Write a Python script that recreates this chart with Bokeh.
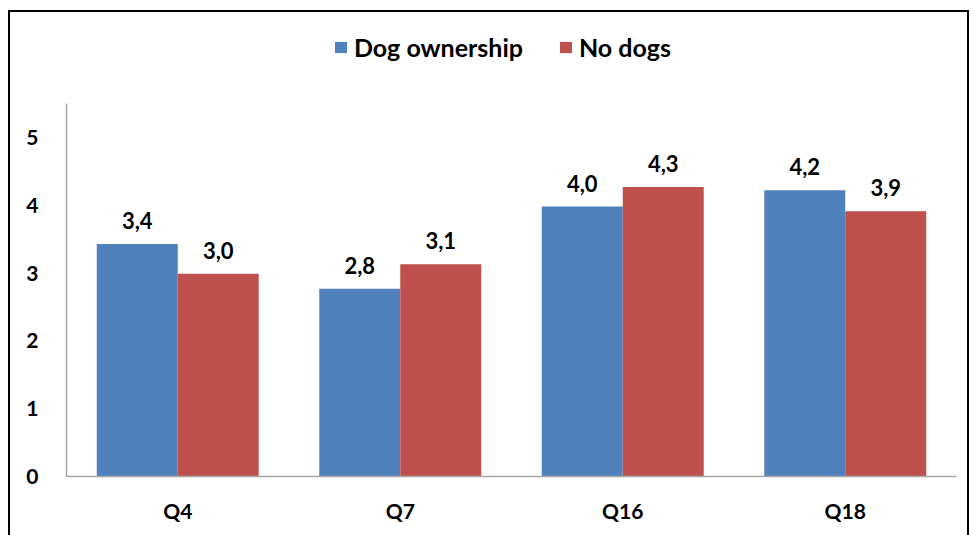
from bokeh.plotting import figure
from bokeh.layouts import column
from bokeh.models import (ColumnDataSource, FactorRange, Legend, LegendItem,
                          Range1d, FixedTicker, InlineStyleSheet)
from bokeh.transform import dodge
from bokeh.core.properties import value
from bokeh.embed import file_html
from bokeh.resources import INLINE

categories = ["Q4", "Q7", "Q16", "Q18"]
dog_ownership = [3.43, 2.77, 3.98, 4.22]
no_dogs = [2.99, 3.13, 4.27, 3.91]
series_names = ["Dog ownership", "No dogs"]
y_ticks = [0, 1, 2, 3, 4, 5]

BLUE = "#4F81BD"
RED = "#C0504D"
FONT = "Lato"

def fmt(v):
    return f"{v:.1f}".replace(".", ",")

src = ColumnDataSource(dict(
    cat=categories,
    dog=dog_ownership,
    nodog=no_dogs,
    dog_lbl=[fmt(v) for v in dog_ownership],
    nodog_lbl=[fmt(v) for v in no_dogs],
))

def frame_css(top_px, height_px, with_top):
    top_rule = "border-top: 2px solid black;" if with_top else ""
    return InlineStyleSheet(css=f"""
:host {{ position: relative; }}
:host::after {{
  content: "";
  position: absolute;
  left: 8px; top: {top_px}px;
  width: 961px; height: {height_px}px;
  border-left: 2px solid black;
  border-right: 2px solid black;
  {top_rule}
  pointer-events: none;
  box-sizing: border-box;
  z-index: 100;
}}
""")

# ---- legend strip (top) ----
top = figure(width=974, height=103, output_backend="svg", toolbar_location=None,
             x_axis_type=None, y_axis_type=None,
             x_range=Range1d(0, 1), y_range=Range1d(0, 1), min_border=0)
top.xgrid.grid_line_color = None
top.ygrid.grid_line_color = None
top.outline_line_color = None
top.border_fill_color = "white"
top.background_fill_color = "white"
# swatch-only renderers: zero-size bars, used only for the legend keys
swatch = ColumnDataSource(dict(x=[0.5], top=[0]))
l1 = top.vbar(x="x", top="top", width=0, source=swatch, fill_color=BLUE, line_color=None)
l2 = top.vbar(x="x", top="top", width=0, source=swatch, fill_color=RED, line_color=None)
legend = Legend(items=[LegendItem(label=series_names[0], renderers=[l1]),
                       LegendItem(label=series_names[1], renderers=[l2])],
                orientation="horizontal", location=(267, 41),
                label_text_font=FONT, label_text_font_style="bold",
                label_text_font_size="25px", label_height=28,
                label_text_color="black",
                glyph_width=15, glyph_height=14,
                label_standoff=6, spacing=35, padding=0, margin=0,
                border_line_color=None, background_fill_alpha=0)
top.add_layout(legend)
top.stylesheets = [frame_css(10, 93, True)]

# ---- chart ----
p = figure(width=974, height=432, output_backend="svg", toolbar_location=None,
           x_range=FactorRange(*categories, range_padding=0),
           y_range=Range1d(0, 5.5),
           min_border_left=66, min_border_right=18,
           min_border_top=0, min_border_bottom=59)

bw = 0.364
off = 0.182
r1 = p.vbar(x=dodge("cat", -off, range=p.x_range), top="dog", width=bw,
            source=src, fill_color=BLUE, line_color=None)
r2 = p.vbar(x=dodge("cat", off, range=p.x_range), top="nodog", width=bw,
            source=src, fill_color=RED, line_color=None)

for xo, col in ((-off, "dog"), (off, "nodog")):
    p.text(x=dodge("cat", xo, range=p.x_range), y=col, text=col + "_lbl",
           source=src, text_align="center", text_baseline="bottom",
           y_offset=-15, text_font=value(FONT), text_font_style="bold",
           text_font_size="22px", text_color="black")

p.xgrid.grid_line_color = None
p.ygrid.grid_line_color = None
p.outline_line_color = None
p.background_fill_color = "white"
p.border_fill_color = "white"

for ax in (p.xaxis[0], p.yaxis[0]):
    ax.axis_line_color = "#a6a6a6"
    ax.axis_line_width = 1.5
    ax.major_tick_line_color = None
    ax.minor_tick_line_color = None
    ax.major_label_text_font = FONT
    ax.major_label_text_font_style = "bold"
    ax.major_label_text_font_size = "21px"
    ax.major_label_text_color = "black"

p.yaxis.ticker = FixedTicker(ticks=y_ticks)
p.yaxis.major_label_standoff = 22
p.xaxis.major_label_standoff = 15
p.stylesheets = [frame_css(0, 432, False)]

layout = column(top, p, spacing=0)

open("out.html", "w").write(file_html(layout, INLINE))
